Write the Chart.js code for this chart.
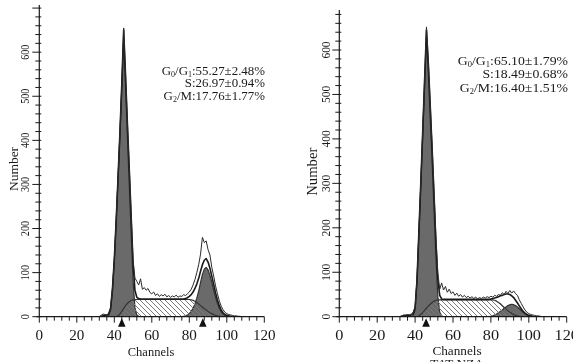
<!DOCTYPE html>
<html><head><meta charset="utf-8">
<script src="https://cdn.jsdelivr.net/npm/chart.js@4.4.1/dist/chart.umd.min.js"></script>
<style>
html,body{margin:0;padding:0;background:#fff;overflow:hidden}
#wrap{position:relative;width:573px;height:362px}
canvas{position:absolute;top:0}
</style></head><body>
<div id="wrap"><canvas id="c1" width="286" height="362" style="left:0"></canvas><canvas id="c2" width="287" height="362" style="left:286px"></canvas></div>
<script>
// ---------- data ----------
const channels = [30,31,32,33,34,35,36,37,38,39,40,41,42,43,44,45,46,47,48,49,50,51,52,53,54,55,56,57,58,59,60,61,62,63,64,65,66,67,68,69,70,71,72,73,74,75,76,77,78,79,80,81,82,83,84,85,86,87,88,89,90,91,92,93,94,95,96,97,98,99,100,101,102,103,104,105,106,107,108,109,110];

const xTickLabels = ['0','20','40','60','80','100','120'];
const yTickLabels = ['0','100','200','300','400','500','600'];

// left panel
const leftRaw = [0,0,0,3,6,5,4,8,20,64, 128,220,318,420,530,655,550,440,338,232, 128,88,80,72,86,62,66,60,64,55, 52,56,48,52,46,50,47,51,45,48, 44,47,45,49,44,47,46,50,48,52, 56,62,72,84,100,118,142,180,168,172, 152,140,112,92,70,52,36,24,16,10, 7,5,4,3,2,2,1,1,0,0, 0];
const leftModel = [0,0,0,1,2,3,3,6,18,62, 130,218,316,418,528,650,546,436,332,226, 122,60,44,41,40,40,40,40,40,40, 40,40,40,40,40,40,40,40,40,40, 40,40,40,40,40,40,40,40,41,43, 46,50,56,64,74,87,103,118,128,132, 124,110,92,73,54,38,25,15,9,5, 3,2,1,0,0,0,0,0,0,0, 0];
const leftS = [0,0,0,0,0,0,0,0,0,0, 0,0,2,6,12,19,25,30,34,37, 38,39,39,39,39,39,39,39,39,39, 39,39,39,39,39,39,39,39,39,39, 39,39,39,39,39,39,39,39,39,39, 39,38,37,35,32,29,25,22,18,15, 12,9,7,5,3,2,1,0,0,0, 0,0,0,0,0,0,0,0,0,0, 0];
const leftG1 = [0,0,0,0,0,0,0,3,15,58, 126,214,312,410,515,630,520,405,296,188, 82,20,4,1,0,0,0,0,0,0, 0,0,0,0,0,0,0,0,0,0, 0,0,0,0,0,0,0,0,0,0, 0,0,0,0,0,0,0,0,0,0, 0,0,0,0,0,0,0,0,0,0, 0,0,0,0,0,0,0,0,0,0, 0];
const leftG2 = [0,0,0,0,0,0,0,0,0,0, 0,0,0,0,0,0,0,0,0,0, 0,0,0,0,0,0,0,0,0,0, 0,0,0,0,0,0,0,0,0,0, 0,0,0,0,0,0,0,1,2,4, 7,12,19,29,42,58,78,96,108,112, 106,94,78,60,44,30,19,11,6,3, 1,0,0,0,0,0,0,0,0,0, 0];
const leftMarkers = [44, 87.2];
const leftStats = ['G_0/G_1:55.27±2.48%', 'S:26.97±0.94%', 'G_2/M:17.76±1.77%'];

// right panel
const rightRaw = [0,0,0,2,4,3,5,4,6,10, 22,85,192,302,418,535,652,572,478,382, 280,178,98,62,76,60,68,55,62,52, 56,48,53,46,50,44,48,43,46,42, 45,41,44,40,43,41,44,42,45,43, 46,44,48,46,50,48,54,50,57,52, 59,53,58,52,48,38,30,22,15,10, 7,5,4,3,2,2,1,0,0,0, 0];
const rightModel = [0,0,0,1,2,3,3,3,4,7, 20,82,190,300,414,530,645,568,472,376, 272,166,82,48,40,39,39,39,39,39, 39,39,39,39,39,39,39,39,39,39, 39,39,39,39,39,39,39,39,39,39, 40,41,42,43,45,47,48,50,51,51, 50,47,43,37,31,24,18,12,8,5, 3,2,1,0,0,0,0,0,0,0, 0];
const rightS = [0,0,0,0,0,0,0,0,0,0, 0,0,2,5,9,14,19,24,28,32, 35,37,38,38,38,38,38,38,38,38, 38,38,38,38,38,38,38,38,38,38, 38,38,38,38,38,38,38,38,38,38, 38,38,37,35,32,29,25,21,17,13, 10,7,5,3,2,1,0,0,0,0, 0,0,0,0,0,0,0,0,0,0, 0];
const rightG1 = [0,0,0,0,0,0,0,0,0,3, 15,78,185,292,405,515,628,545,445,345, 238,130,45,10,2,0,0,0,0,0, 0,0,0,0,0,0,0,0,0,0, 0,0,0,0,0,0,0,0,0,0, 0,0,0,0,0,0,0,0,0,0, 0,0,0,0,0,0,0,0,0,0, 0,0,0,0,0,0,0,0,0,0, 0];
const rightG2 = [0,0,0,0,0,0,0,0,0,0, 0,0,0,0,0,0,0,0,0,0, 0,0,0,0,0,0,0,0,0,0, 0,0,0,0,0,0,0,0,0,0, 0,0,0,0,0,0,0,0,0,0, 1,2,4,6,9,12,15,19,22,25, 27,28,27,25,22,18,14,10,7,4, 2,1,0,0,0,0,0,0,0,0, 0];
const rightMarkers = [45.8];
const rightStats = ['G_0/G_1:65.10±1.79%', 'S:18.49±0.68%', 'G_2/M:16.40±1.51%'];
const rightCaption = 'TAT-NZA';

// ---------- styling ----------
const FONT = '"Liberation Serif","Times New Roman",serif';
const INK = '#1a1a1a';
const GRAY = '#6a6a6a';

function hatchPattern(ctx) {
  const p = document.createElement('canvas');
  p.width = 5; p.height = 5;
  const g = p.getContext('2d');
  g.strokeStyle = '#7a7a7a'; g.lineWidth = 1;
  g.beginPath();
  g.moveTo(-1, -1); g.lineTo(6, 6);
  g.moveTo(-1, 4); g.lineTo(1, 6);
  g.moveTo(4, -1); g.lineTo(6, 1);
  g.stroke();
  return ctx.createPattern(p, 'repeat');
}

function pts(arr) { return channels.map((c, i) => ({x: c, y: arr[i]})); }

function parseSegs(str) {
  const segs = [];
  let buf = '';
  for (let i = 0; i < str.length; i++) {
    if (str[i] === '_') { if (buf) segs.push({t: buf, sub: false}); buf = ''; segs.push({t: str[i+1], sub: true}); i++; }
    else buf += str[i];
  }
  if (buf) segs.push({t: buf, sub: false});
  return segs;
}

function drawSegs(ctx, str, xRight, base, size, sx) {
  const segs = parseSegs(str);
  ctx.save();
  const widths = segs.map(s => { ctx.font = (s.sub ? size * 0.62 : size) + 'px ' + FONT; return ctx.measureText(s.t).width; });
  const total = widths.reduce((a, b) => a + b, 0) * sx;
  ctx.translate(xRight - total, base);
  ctx.scale(sx, 1);
  ctx.textAlign = 'left'; ctx.textBaseline = 'alphabetic';
  let x = 0;
  segs.forEach((s, i) => {
    ctx.font = (s.sub ? size * 0.62 : size) + 'px ' + FONT;
    ctx.fillText(s.t, x, s.sub ? size * 0.2 : 0);
    x += widths[i];
  });
  ctx.restore();
}

function text(ctx, t, cx, base, size, sx) {
  ctx.save();
  ctx.font = size + 'px ' + FONT;
  ctx.translate(cx, base); ctx.scale(sx, 1);
  ctx.textAlign = 'center'; ctx.textBaseline = 'alphabetic';
  ctx.fillText(t, 0, 0);
  ctx.restore();
}

function vtext(ctx, t, cx, cy, size, sx, k) {
  ctx.save();
  ctx.font = size + 'px ' + FONT;
  ctx.translate(cx + k * size, cy); ctx.rotate(-Math.PI / 2); ctx.scale(sx, 1);
  ctx.textAlign = 'center'; ctx.textBaseline = 'alphabetic';
  ctx.fillText(t, 0, 0);
  ctx.restore();
}

const axesPlugin = {
  id: 'fcmAxes',
  afterDraw(chart) {
    const o = chart.options.plugins.fcmAxes;
    const {ctx, chartArea: a, scales: {x, y}} = chart;
    ctx.save();
    ctx.strokeStyle = INK; ctx.fillStyle = INK; ctx.lineWidth = 1.2;
    ctx.beginPath();
    ctx.moveTo(a.left, a.top); ctx.lineTo(a.left, a.bottom);
    ctx.moveTo(a.left - 3, a.bottom); ctx.lineTo(a.right, a.bottom);
    ctx.stroke();
    ctx.lineWidth = 1;
    ctx.beginPath();
    for (let v = 0; v <= 120; v += 4) {
      const px = x.getPixelForValue(v);
      const major = v % 20 === 0;
      ctx.moveTo(px, a.bottom); ctx.lineTo(px, a.bottom + (major ? 6 : 4));
    }
    for (let v = 0; v <= y.max; v += 20) {
      const py = y.getPixelForValue(v);
      const major = v % 100 === 0;
      ctx.moveTo(a.left - (major ? 7 : 4), py); ctx.lineTo(a.left + 2, py);
    }
    ctx.stroke();
    xTickLabels.forEach(l => text(ctx, l, x.getPixelForValue(Number(l)), o.xLabelBase, o.xLabelSize, o.xLabelSx));
    yTickLabels.forEach(l => vtext(ctx, l, o.yLabelX, y.getPixelForValue(Number(l)), o.yLabelSize, o.yLabelSx, 0.34));
    text(ctx, 'Channels', o.chX, o.chBase, o.chSize, o.chSx);
    vtext(ctx, 'Number', o.titleX, o.titleY, o.titleSize, o.titleSx, 0.33);
    if (o.caption) text(ctx, o.caption, o.chX, o.capBase, o.chSize, o.chSx);
    o.stats.forEach((s, i) => drawSegs(ctx, s, o.statsRight, o.statsBases[i], o.statsSize, o.statsSx));
    ctx.fillStyle = '#111';
    o.markers.forEach(m => {
      const px = x.getPixelForValue(m);
      ctx.beginPath();
      ctx.moveTo(px, a.bottom + 1.5);
      ctx.lineTo(px + 3.8, a.bottom + 10);
      ctx.lineTo(px - 3.8, a.bottom + 10);
      ctx.closePath(); ctx.fill();
    });
    ctx.restore();
  }
};

function makeChart(id, d, o) {
  const ctx = document.getElementById(id).getContext('2d');
  const pat = hatchPattern(ctx);
  const base = {pointRadius: 0, tension: 0, borderJoinStyle: 'round'};
  return new Chart(ctx, {
    type: 'line',
    data: {datasets: [
      Object.assign({data: pts(d.raw), borderColor: '#2a2a2a', borderWidth: 1, fill: false}, base),
      Object.assign({data: pts(d.model), borderColor: '#1a1a1a', borderWidth: 1.6, fill: false}, base),
      Object.assign({data: pts(d.s), borderColor: '#333', borderWidth: 1.2, fill: 'origin', backgroundColor: pat}, base),
      Object.assign({data: pts(d.g2), borderColor: '#333', borderWidth: 1.2, fill: 'origin', backgroundColor: GRAY}, base),
      Object.assign({data: pts(d.g1), borderColor: '#333', borderWidth: 1.2, fill: 'origin', backgroundColor: GRAY}, base)
    ]},
    options: {
      responsive: false, animation: false, devicePixelRatio: 1,
      layout: {padding: o.pad},
      scales: {
        x: {type: 'linear', min: 0, max: 120, display: false},
        y: {type: 'linear', min: 0, max: o.yMax, display: false}
      },
      plugins: {legend: {display: false}, tooltip: {enabled: false}, fcmAxes: o}
    },
    plugins: [axesPlugin]
  });
}

makeChart('c1', {raw: leftRaw, model: leftModel, s: leftS, g1: leftG1, g2: leftG2}, {
  yMax: 707, pad: {left: 39.3, right: 21.7, top: 5, bottom: 45.3},
  yLabelX: 24.2, yLabelSize: 13, yLabelSx: 0.78,
  titleX: 13.3, titleY: 169, titleSize: 13.5, titleSx: 1.0,
  xLabelBase: 339.5, xLabelSize: 14, xLabelSx: 1.08,
  chX: 151, chBase: 356, chSize: 12.5, chSx: 1.0,
  stats: leftStats, statsRight: 265, statsBases: [74.7, 87.3, 100], statsSize: 12, statsSx: 1.075,
  markers: leftMarkers
});

makeChart('c2', {raw: rightRaw, model: rightModel, s: rightS, g1: rightG1, g2: rightG2}, {
  yMax: 690, pad: {left: 53.3, right: 6.3, top: 10, bottom: 45.3},
  yLabelX: 39.5, yLabelSize: 13, yLabelSx: 0.88,
  titleX: 26, titleY: 171.7, titleSize: 14, titleSx: 1.05,
  xLabelBase: 340, xLabelSize: 14.5, xLabelSx: 1.12,
  chX: 171, chBase: 355, chSize: 13.5, chSx: 0.98, caption: rightCaption, capBase: 368,
  stats: rightStats, statsRight: 282, statsBases: [64.5, 78, 91.5], statsSize: 13.5, statsSx: 1.02,
  markers: rightMarkers
});
</script>
</body></html>
